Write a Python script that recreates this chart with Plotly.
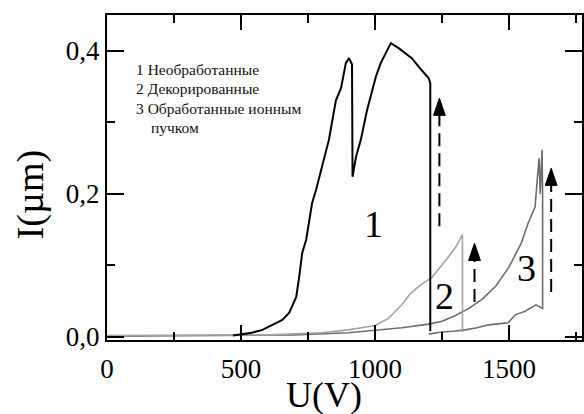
import plotly.graph_objects as go

# ---- data ----
U1 = [470, 500, 540, 580, 617, 654, 680, 706, 717, 728, 743, 754, 765, 780, 791, 810, 828,
      854, 873, 891, 903, 914, 916, 929, 947, 970, 1003, 1021, 1040, 1059, 1088, 1137, 1174,
      1200, 1206, 1206]
I1 = [0.002, 0.004, 0.006, 0.010, 0.017, 0.024, 0.034, 0.056, 0.084, 0.117, 0.136, 0.164,
      0.187, 0.206, 0.222, 0.248, 0.276, 0.331, 0.348, 0.383, 0.390, 0.381, 0.224, 0.252,
      0.276, 0.317, 0.364, 0.383, 0.398, 0.411, 0.404, 0.390, 0.373, 0.362, 0.355, 0.008]

U2 = [0, 400, 600, 800, 900, 1000, 1050, 1100, 1130, 1170, 1211, 1263, 1300, 1326, 1326]
I2 = [0.002, 0.002, 0.003, 0.006, 0.010, 0.016, 0.026, 0.045, 0.060, 0.073, 0.083, 0.107,
      0.125, 0.143, 0.007]

U3 = [0, 700, 900, 1000, 1100, 1200, 1250, 1300, 1350, 1400, 1450, 1500, 1545, 1571, 1597,
      1606, 1612, 1616, 1620, 1623, 1625, 1625,
      1600, 1580, 1560, 1523, 1497, 1450, 1423, 1380, 1337, 1290, 1248, 1200]
I3 = [0.001, 0.003, 0.006, 0.009, 0.013, 0.018, 0.022, 0.030, 0.040, 0.053, 0.071, 0.098,
      0.131, 0.159, 0.182, 0.225, 0.250, 0.200, 0.235, 0.262, 0.200, 0.040,
      0.045, 0.040, 0.036, 0.031, 0.020, 0.018, 0.017, 0.013, 0.010, 0.008, 0.007, 0.004]

arrow_u = [1240, 1371, 1657]
arrow_from = [0.155, 0.049, 0.063]
arrow_tip = [0.334, 0.131, 0.236]

curve_labels = ["1", "2", "3"]
label_u = [996, 1259, 1564]
label_i = [0.158, 0.057, 0.096]

legend_lines = ["1 Необработанные", "2 Декорированные", "3 Обработанные ионным", "пучком"]

x_tickvals = [0, 500, 1000, 1500]
x_ticktext = ["0", "500", "1000", "1500"]
y_tickvals = [0.0, 0.2, 0.4]
y_ticktext = ["0,0", "0,2", "0,4"]

# ---- styling ----
FONT = "Liberation Serif, Times New Roman, serif"
HEAD_LEN = 0.024   # arrow head length in I units
HEAD_HW = 22       # arrow head half width in U units
PL, PR, PT, PB = 107, 584, 15, 340   # plot area in pixels


def px_to_paper(px, py):
    return (px - PL) / (PR - PL), (PB - py) / (PB - PT)


fig = go.Figure()

fig.add_trace(go.Scatter(x=U3, y=I3, mode="lines", line=dict(color="#6e6e6e", width=1.6),
                         showlegend=False))
fig.add_trace(go.Scatter(x=U2, y=I2, mode="lines", line=dict(color="#a4a4a4", width=1.6),
                         showlegend=False))
fig.add_trace(go.Scatter(x=U1, y=I1, mode="lines", line=dict(color="#000000", width=2),
                         showlegend=False))

for u, a, t in zip(arrow_u, arrow_from, arrow_tip):
    fig.add_trace(go.Scatter(x=[u, u], y=[a, t - HEAD_LEN], mode="lines",
                             line=dict(color="black", width=2, dash="13px,7px"),
                             showlegend=False))
    fig.add_trace(go.Scatter(x=[u - HEAD_HW, u, u + HEAD_HW, u - HEAD_HW],
                             y=[t - HEAD_LEN, t, t - HEAD_LEN, t - HEAD_LEN],
                             mode="lines", fill="toself", fillcolor="black",
                             line=dict(color="black", width=1), showlegend=False))

annotations = []
for txt, u, i in zip(curve_labels, label_u, label_i):
    annotations.append(dict(x=u, y=i, xref="x", yref="y", text=txt, showarrow=False,
                            font=dict(family=FONT, size=38, color="black"),
                            xanchor="center", yanchor="middle"))

leg_x = [134, 134, 134, 149]
leg_y = [70, 89, 108, 127]
for txt, lx, ly in zip(legend_lines, leg_x, leg_y):
    ax, ay = px_to_paper(lx, ly)
    annotations.append(dict(x=ax, y=ay, xref="paper", yref="paper",
                            text=txt, showarrow=False,
                            font=dict(family=FONT, size=15.5, color="#111111"),
                            xanchor="left", yanchor="middle"))

tx, ty = px_to_paper(325, 395)
annotations.append(dict(x=tx, y=ty, xref="paper", yref="paper", text="U(V)",
                        showarrow=False, font=dict(family=FONT, size=36, color="black"),
                        xanchor="center", yanchor="middle"))
tx, ty = px_to_paper(30, 195)
annotations.append(dict(x=tx, y=ty, xref="paper", yref="paper", text="I(µm)",
                        showarrow=False, textangle=-90,
                        font=dict(family=FONT, size=38, color="black"),
                        xanchor="center", yanchor="middle"))

axis_common = dict(showline=True, linecolor="black", linewidth=2, mirror="ticks",
                   ticks="inside", tickwidth=2, tickcolor="black", showgrid=False,
                   zeroline=False,
                   tickfont=dict(family=FONT, size=27, color="black"))

fig.update_layout(
    width=584, height=414,
    margin=dict(l=PL, r=584 - PR, t=PT, b=414 - PB),
    paper_bgcolor="white", plot_bgcolor="white",
    font=dict(family=FONT, color="black"),
    xaxis=dict(range=[0, 1772], tickvals=x_tickvals, ticktext=x_ticktext, ticklen=15,
               ticklabelstandoff=4,
               minor=dict(dtick=250, ticks="inside", ticklen=8, tickwidth=2,
                          tickcolor="black"),
               **axis_common),
    yaxis=dict(range=[-0.0042, 0.4503], tickvals=y_tickvals, ticktext=y_ticktext,
               ticklen=17,
               minor=dict(dtick=0.1, ticks="inside", ticklen=8, tickwidth=2,
                          tickcolor="black"),
               **axis_common),
    annotations=annotations,
)

fig.write_html("out.html")
